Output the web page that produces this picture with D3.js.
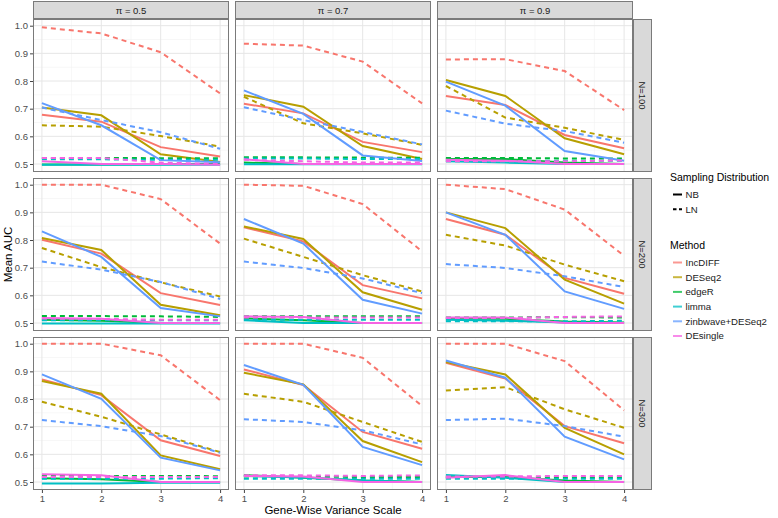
<!DOCTYPE html>
<html><head><meta charset="utf-8">
<script src="https://cdn.jsdelivr.net/npm/d3@7"></script>
<style>body{margin:0;background:#fff;} svg{display:block;font-family:"Liberation Sans",Arial,sans-serif;}</style>
</head><body><svg id="chart" width="778" height="518"></svg>
<script>
const varianceScale = [1, 2, 3, 4];
const piLevels = ["0.5", "0.7", "0.9"];
const nLevels = ["N=100", "N=200", "N=300"];
const methods = ["IncDIFF", "DESeq2", "edgeR", "limma", "zinbwave+DESeq2", "DEsingle"];
const methodColors = ["#F8766D", "#B79F00", "#00BA38", "#00BFC4", "#619CFF", "#F564E3"];
const distributions = ["NB", "LN"];
const yTicks = [0.5, 0.6, 0.7, 0.8, 0.9, 1.0];

// Each series: 9 panels, order N=100 (pi .5,.7,.9), N=200 (...), N=300 (...)
const incdiffNB = [
  [0.678, 0.653, 0.561, 0.527], [0.718, 0.683, 0.580, 0.543], [0.746, 0.713, 0.605, 0.557],
  [0.801, 0.751, 0.608, 0.565], [0.846, 0.795, 0.637, 0.589], [0.876, 0.819, 0.663, 0.606],
  [0.871, 0.814, 0.651, 0.594], [0.907, 0.851, 0.681, 0.620], [0.931, 0.874, 0.702, 0.640]];
const incdiffLN = [
  [0.994, 0.972, 0.904, 0.755], [0.935, 0.928, 0.870, 0.719], [0.878, 0.879, 0.836, 0.695],
  [1.000, 1.000, 0.948, 0.787], [1.000, 0.996, 0.930, 0.759], [1.000, 0.984, 0.910, 0.743],
  [1.000, 1.000, 0.958, 0.796], [1.000, 1.000, 0.949, 0.775], [1.000, 1.000, 0.937, 0.759]];
const deseq2NB = [
  [0.704, 0.676, 0.535, 0.507], [0.749, 0.707, 0.565, 0.518], [0.804, 0.746, 0.593, 0.535],
  [0.807, 0.764, 0.566, 0.528], [0.849, 0.804, 0.611, 0.548], [0.900, 0.843, 0.657, 0.570],
  [0.865, 0.819, 0.596, 0.546], [0.895, 0.853, 0.648, 0.572], [0.934, 0.889, 0.696, 0.600]];
const deseq2LN = [
  [0.640, 0.635, 0.601, 0.563], [0.743, 0.647, 0.611, 0.569], [0.782, 0.668, 0.631, 0.587],
  [0.771, 0.702, 0.647, 0.596], [0.805, 0.739, 0.673, 0.614], [0.819, 0.780, 0.711, 0.651],
  [0.790, 0.736, 0.672, 0.608], [0.819, 0.790, 0.717, 0.645], [0.831, 0.843, 0.763, 0.696]];
const edgerNB = [
  [0.498, 0.498, 0.499, 0.500], [0.505, 0.500, 0.500, 0.500], [0.518, 0.518, 0.505, 0.500],
  [0.512, 0.508, 0.500, 0.500], [0.517, 0.510, 0.500, 0.500], [0.515, 0.515, 0.505, 0.502],
  [0.514, 0.510, 0.500, 0.500], [0.525, 0.515, 0.505, 0.500], [0.518, 0.518, 0.505, 0.500]];
const edgerLN = [
  [0.522, 0.522, 0.521, 0.521], [0.524, 0.524, 0.523, 0.523], [0.522, 0.522, 0.520, 0.520],
  [0.525, 0.525, 0.524, 0.522], [0.524, 0.524, 0.524, 0.524], [0.520, 0.520, 0.521, 0.520],
  [0.522, 0.522, 0.522, 0.521], [0.520, 0.520, 0.518, 0.518], [0.516, 0.516, 0.516, 0.516]];
const limmaNB = [
  [0.497, 0.497, 0.497, 0.497], [0.499, 0.499, 0.499, 0.499], [0.510, 0.505, 0.500, 0.500],
  [0.498, 0.498, 0.498, 0.498], [0.510, 0.500, 0.500, 0.500], [0.512, 0.508, 0.502, 0.500],
  [0.495, 0.495, 0.497, 0.497], [0.522, 0.516, 0.505, 0.500], [0.525, 0.515, 0.500, 0.500]];
const limmaLN = [
  [0.517, 0.517, 0.515, 0.515], [0.520, 0.520, 0.518, 0.518], [0.510, 0.510, 0.512, 0.512],
  [0.510, 0.510, 0.510, 0.510], [0.512, 0.512, 0.512, 0.512], [0.506, 0.506, 0.506, 0.508],
  [0.512, 0.512, 0.512, 0.514], [0.512, 0.512, 0.512, 0.512], [0.512, 0.512, 0.512, 0.512]];
const zinbwaveNB = [
  [0.720, 0.640, 0.514, 0.506], [0.766, 0.681, 0.531, 0.511], [0.798, 0.711, 0.547, 0.512],
  [0.831, 0.739, 0.554, 0.524], [0.876, 0.787, 0.584, 0.534], [0.900, 0.819, 0.614, 0.551],
  [0.889, 0.801, 0.588, 0.542], [0.923, 0.851, 0.627, 0.561], [0.939, 0.877, 0.664, 0.582]];
const zinbwaveLN = [
  [0.704, 0.659, 0.615, 0.555], [0.705, 0.659, 0.616, 0.571], [0.693, 0.646, 0.619, 0.577],
  [0.722, 0.693, 0.648, 0.587], [0.722, 0.699, 0.661, 0.608], [0.713, 0.699, 0.669, 0.630],
  [0.724, 0.702, 0.666, 0.606], [0.727, 0.717, 0.687, 0.636], [0.724, 0.729, 0.702, 0.664]];
const desingleNB = [
  [0.510, 0.500, 0.500, 0.497], [0.517, 0.500, 0.500, 0.500], [0.515, 0.512, 0.500, 0.500],
  [0.518, 0.515, 0.500, 0.500], [0.524, 0.522, 0.500, 0.500], [0.520, 0.520, 0.500, 0.500],
  [0.528, 0.524, 0.500, 0.500], [0.522, 0.520, 0.500, 0.500], [0.515, 0.525, 0.500, 0.500]];
const desingleLN = [
  [0.522, 0.522, 0.505, 0.500], [0.515, 0.510, 0.505, 0.505], [0.510, 0.510, 0.510, 0.513],
  [0.516, 0.515, 0.512, 0.512], [0.520, 0.520, 0.520, 0.520], [0.518, 0.518, 0.522, 0.524],
  [0.518, 0.518, 0.518, 0.518], [0.524, 0.524, 0.522, 0.524], [0.520, 0.520, 0.522, 0.522]];

const seriesByMethod = [
  [incdiffNB, incdiffLN], [deseq2NB, deseq2LN], [edgerNB, edgerLN],
  [limmaNB, limmaLN], [zinbwaveNB, zinbwaveLN], [desingleNB, desingleLN]];

const svg = d3.select("#chart");
const panelLeft = 33, panelW = 196, gapX = 6;
const panelTop = 19, panelH = 153, gapY = 6;
const stripH = 18, stripW = 19;
const borderCol = "#7a7a7a";

const x = d3.scaleLinear().domain([0.85, 4.15]).range([0, panelW]);
const y = d3.scaleLinear().domain([0.4711, 1.0242]).range([panelH, 0]);
const color = d3.scaleOrdinal().domain(methods).range(methodColors);
const dash = d3.scaleOrdinal().domain(distributions).range(["none", "5,4"]);
const line = d3.line().x((d, i) => x(varianceScale[i])).y(d => y(d));

const defs = svg.append("defs");

for (let r = 0; r < nLevels.length; r++) {
  for (let c = 0; c < piLevels.length; c++) {
    const px = panelLeft + c * (panelW + gapX);
    const py = panelTop + r * (panelH + gapY);
    const g = svg.append("g").attr("transform", `translate(${px},${py})`);
    const cid = `clip${r}${c}`;
    defs.append("clipPath").attr("id", cid).append("rect").attr("width", panelW).attr("height", panelH);
    g.append("rect").attr("width", panelW).attr("height", panelH).attr("fill", "#fff");
    const minorX = [1.5, 2.5, 3.5], minorY = [0.55, 0.65, 0.75, 0.85, 0.95];
    g.selectAll(".mx").data(minorX).enter().append("line")
      .attr("x1", d => x(d)).attr("x2", d => x(d)).attr("y1", 0).attr("y2", panelH)
      .attr("stroke", "#f2f2f2").attr("stroke-width", 0.6);
    g.selectAll(".my").data(minorY).enter().append("line")
      .attr("y1", d => y(d)).attr("y2", d => y(d)).attr("x1", 0).attr("x2", panelW)
      .attr("stroke", "#f2f2f2").attr("stroke-width", 0.6);
    g.selectAll(".gx").data(varianceScale).enter().append("line")
      .attr("x1", d => x(d)).attr("x2", d => x(d)).attr("y1", 0).attr("y2", panelH)
      .attr("stroke", "#e6e6e6").attr("stroke-width", 1);
    g.selectAll(".gy").data(yTicks).enter().append("line")
      .attr("y1", d => y(d)).attr("y2", d => y(d)).attr("x1", 0).attr("x2", panelW)
      .attr("stroke", "#e6e6e6").attr("stroke-width", 1);

    const lg = g.append("g").attr("clip-path", `url(#${cid})`);
    const idx = r * 3 + c;
    methods.forEach((m, mi) => {
      distributions.forEach((dname, di) => {
        lg.append("path").datum(seriesByMethod[mi][di][idx])
          .attr("d", line).attr("fill", "none")
          .attr("stroke", color(m)).attr("stroke-width", 2)
          .attr("stroke-dasharray", dash(dname));
      });
    });
    g.append("rect").attr("x", 0.5).attr("y", 0.5).attr("width", panelW - 1).attr("height", panelH - 1)
      .attr("fill", "none").attr("stroke", borderCol).attr("stroke-width", 1);

    if (c === 0) {
      const ax = g.append("g").call(d3.axisLeft(y).tickValues(yTicks).tickFormat(d3.format(".1f")).tickSize(3).tickPadding(2));
      ax.select(".domain").remove();
      ax.selectAll("line").attr("stroke", "#444");
      ax.selectAll("text").attr("fill", "#4d4d4d").attr("font-size", 9.5).attr("font-family", "Liberation Sans, Arial, sans-serif");
    }
    if (r === nLevels.length - 1) {
      const ax = g.append("g").attr("transform", `translate(0,${panelH})`)
        .call(d3.axisBottom(x).tickValues(varianceScale).tickFormat(d3.format("d")).tickSize(3).tickPadding(2));
      ax.select(".domain").remove();
      ax.selectAll("line").attr("stroke", "#444");
      ax.selectAll("text").attr("fill", "#4d4d4d").attr("font-size", 9.5).attr("font-family", "Liberation Sans, Arial, sans-serif");
    }
    if (r === 0) {
      const sg = svg.append("g").attr("transform", `translate(${px},${panelTop - stripH})`);
      sg.append("rect").attr("x", 0.5).attr("y", 0.5).attr("width", panelW - 1).attr("height", stripH - 1)
        .attr("fill", "#d9d9d9").attr("stroke", borderCol);
      sg.append("text").attr("x", panelW / 2).attr("y", stripH / 2 + 3.5).attr("text-anchor", "middle")
        .attr("font-size", 9.5).attr("fill", "#1a1a1a").text(`\u03c0 = ${piLevels[c]}`);
    }
    if (c === piLevels.length - 1) {
      const sx = px + panelW;
      const sg = svg.append("g").attr("transform", `translate(${sx},${py})`);
      sg.append("rect").attr("x", 0.5).attr("y", 0.5).attr("width", stripW - 1).attr("height", panelH - 1)
        .attr("fill", "#d9d9d9").attr("stroke", borderCol);
      sg.append("text").attr("transform", `translate(${stripW / 2 - 3.5},${panelH / 2}) rotate(90)`)
        .attr("text-anchor", "middle").attr("font-size", 9.5).attr("fill", "#1a1a1a").text(nLevels[r]);
    }
  }
}

const plotMidX = panelLeft + (3 * panelW + 2 * gapX) / 2;
const plotMidY = panelTop + (3 * panelH + 2 * gapY) / 2;
svg.append("text").attr("x", plotMidX).attr("y", 514).attr("text-anchor", "middle")
  .attr("font-size", 11.5).attr("fill", "#000").text("Gene-Wise Variance Scale");
svg.append("text").attr("transform", `translate(12,${plotMidY}) rotate(-90)`).attr("text-anchor", "middle")
  .attr("font-size", 11.5).attr("fill", "#000").text("Mean AUC");

const legX = 670;
const leg = svg.append("g");
leg.append("text").attr("x", legX).attr("y", 181).attr("font-size", 10.5).attr("fill", "#000").text("Sampling Distribution");
distributions.forEach((dname, i) => {
  const yy = 194.5 + i * 14.7;
  leg.append("line").attr("x1", legX + 3).attr("x2", legX + 12).attr("y1", yy).attr("y2", yy)
    .attr("stroke", "#000").attr("stroke-width", 2).attr("stroke-dasharray", dname === "LN" ? "3.5,2.5" : "none");
  leg.append("text").attr("x", legX + 15.5).attr("y", yy + 3.4).attr("font-size", 9.6).attr("fill", "#1a1a1a").text(dname);
});
leg.append("text").attr("x", legX).attr("y", 248.5).attr("font-size", 10.5).attr("fill", "#000").text("Method");
methods.forEach((m, i) => {
  const yy = 262.5 + i * 14.7;
  leg.append("line").attr("x1", legX + 3).attr("x2", legX + 12).attr("y1", yy).attr("y2", yy)
    .attr("stroke", color(m)).attr("stroke-width", 2).attr("stroke-opacity", 0.75);
  leg.append("text").attr("x", legX + 15.5).attr("y", yy + 3.4).attr("font-size", 9.6).attr("fill", "#1a1a1a").text(m);
});
</script></body></html>
